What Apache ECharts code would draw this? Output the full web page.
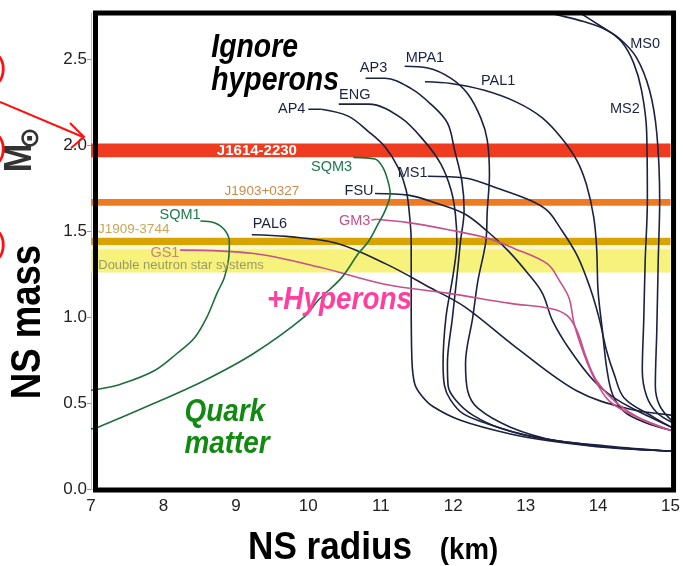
<!DOCTYPE html>
<html>
<head>
<meta charset="utf-8">
<title>Neutron star mass-radius relation</title>
<script src="https://cdn.jsdelivr.net/npm/echarts@6/dist/echarts.min.js"></script>
<style>
  html, body { margin: 0; padding: 0; background: #ffffff; }
  #chart { width: 683px; height: 566px; }
</style>
</head>
<body>
<div id="chart"></div>
<script>
// ---- axes -------------------------------------------------------------
const radiusTicks = [7, 8, 9, 10, 11, 12, 13, 14, 15];
const massTicks = [0.0, 0.5, 1.0, 1.5, 2.0, 2.5];
const massTop = 2.77;

// ---- measured pulsar masses (solar masses) -----------------------------
const bandNames = ['J1614-2230', 'J1903+0327', 'J1909-3744', 'DNS margin', 'Double neutron star systems'];
const bandLow  = [1.93, 1.648, 1.42, 1.395, 1.26];
const bandHigh = [2.01, 1.688, 1.462, 1.42, 1.395];

// ---- equations of state: [radius km, mass Msun] -----------------------
const AP4  = [[10.18,2.21],[10.55,2.17],[10.83,2.08],[11.06,1.99],[11.24,1.87],[11.35,1.74],[11.40,1.58],[11.42,1.44],[11.42,1.10],[11.43,0.75],[11.47,0.61],[11.57,0.54],[11.72,0.48],[12.10,0.40],[12.79,0.32],[13.34,0.28],[14.16,0.24],[15.01,0.22]];
const ENG  = [[10.42,2.24],[10.83,2.24],[11.28,2.16],[11.61,2.02],[11.83,1.89],[11.97,1.74],[12.03,1.60],[12.05,1.44],[12.00,1.25],[11.90,1.00],[11.86,0.73],[11.88,0.60],[11.96,0.52],[12.13,0.44],[12.47,0.38],[13.02,0.31],[13.63,0.27],[14.26,0.24],[15.01,0.22]];
const AP3  = [[10.79,2.39],[11.06,2.39],[11.42,2.33],[11.69,2.24],[11.92,2.13],[12.02,1.97],[12.12,1.79],[12.15,1.62],[12.10,1.44],[12.06,1.27],[11.99,1.00],[11.92,0.73],[11.93,0.60],[12.03,0.52],[12.27,0.43],[12.68,0.35],[13.30,0.29],[14.12,0.25],[15.01,0.22]];
const MPA1 = [[11.33,2.46],[11.65,2.45],[11.97,2.39],[12.20,2.30],[12.38,2.16],[12.47,2.03],[12.50,1.83],[12.47,1.62],[12.45,1.44],[12.34,1.21],[12.27,1.00],[12.17,0.73],[12.20,0.57],[12.34,0.47],[12.79,0.36],[13.43,0.28],[14.26,0.24],[15.01,0.22]];
const PAL1 = [[11.61,2.37],[11.97,2.36],[12.43,2.32],[12.88,2.25],[13.23,2.16],[13.50,2.04],[13.71,1.91],[13.84,1.77],[13.94,1.58],[13.98,1.40],[14.00,1.15],[14.06,0.92],[14.12,0.70],[14.20,0.55],[14.36,0.45],[14.63,0.39],[15.01,0.34]];
const MS0  = [[12.88,2.83],[13.34,2.77],[13.80,2.72],[14.12,2.67],[14.33,2.60],[14.49,2.48],[14.60,2.32],[14.67,2.08],[14.68,1.68],[14.65,1.33],[14.63,0.98],[14.61,0.69],[14.67,0.54],[14.81,0.445],[15.01,0.39]];
const MS2  = [[13.64,2.80],[14.05,2.69],[14.30,2.62],[14.53,2.51],[14.71,2.32],[14.81,2.07],[14.85,1.68],[14.83,1.33],[14.81,0.92],[14.79,0.60],[14.85,0.485],[15.01,0.40]];
const MS1  = [[11.65,1.82],[12.16,1.81],[12.61,1.75],[13.06,1.68],[13.30,1.62],[13.46,1.53],[13.71,1.36],[13.89,1.17],[14.01,1.00],[14.12,0.80],[14.22,0.67],[14.36,0.53],[14.76,0.42],[15.01,0.36]];
const FSU  = [[10.92,1.72],[11.38,1.71],[11.79,1.66],[12.16,1.60],[12.47,1.50],[12.75,1.39],[13.02,1.26],[13.23,1.14],[13.37,0.98],[13.61,0.81],[13.94,0.63],[14.26,0.52],[14.71,0.42],[15.01,0.36]];
const PAL6 = [[9.22,1.48],[9.70,1.47],[10.39,1.43],[11.07,1.31],[11.69,1.17],[12.16,1.06],[12.88,0.82],[13.71,0.57],[14.39,0.47],[15.01,0.43]];
const GM3  = [[10.94,1.57],[11.38,1.55],[11.92,1.51],[12.47,1.46],[12.84,1.40],[13.30,1.31],[13.47,1.21],[13.60,1.11],[13.67,0.96],[13.80,0.79],[13.94,0.65],[14.16,0.51],[14.53,0.42],[15.01,0.34]];
const GS1  = [[8.23,1.39],[9.25,1.37],[10.16,1.29],[11.07,1.19],[11.92,1.14],[12.79,1.08],[13.34,1.05],[13.57,1.01],[13.71,0.92],[13.84,0.76],[13.98,0.63],[14.26,0.50],[14.63,0.40],[15.01,0.34]];
const SQM1 = [[8.51,1.56],[8.70,1.55],[8.84,1.51],[8.91,1.44],[8.90,1.34],[8.84,1.23],[8.74,1.14],[8.60,1.00],[8.43,0.88],[8.19,0.79],[7.88,0.69],[7.41,0.61],[7.10,0.58],[7.00,0.575]];
const SQM3 = [[10.62,1.93],[10.92,1.92],[11.03,1.87],[11.10,1.79],[11.13,1.72],[11.06,1.62],[10.96,1.54],[10.83,1.44],[10.69,1.37],[10.46,1.23],[10.14,1.10],[9.94,1.00],[9.25,0.79],[8.56,0.63],[7.88,0.50],[7.10,0.36],[7.00,0.35]];

// ---- styling ----------------------------------------------------------
const NAVY = '#1b2140', GREEN = '#1f6e3e', PINK = '#c4508c';
const FONT = '"Liberation Sans", Arial, Helvetica, sans-serif';
const bandColors = ['#ef3b1f', '#f07a22', '#d9a300', '#fbf8cf', '#f7f27c'];

const curves = [
  { name: 'AP4', data: AP4, color: NAVY }, { name: 'ENG', data: ENG, color: NAVY },
  { name: 'AP3', data: AP3, color: NAVY }, { name: 'MPA1', data: MPA1, color: NAVY },
  { name: 'PAL1', data: PAL1, color: NAVY }, { name: 'MS0', data: MS0, color: NAVY },
  { name: 'MS2', data: MS2, color: NAVY }, { name: 'MS1', data: MS1, color: NAVY },
  { name: 'FSU', data: FSU, color: NAVY }, { name: 'PAL6', data: PAL6, color: NAVY },
  { name: 'GM3', data: GM3, color: PINK }, { name: 'GS1', data: GS1, color: PINK },
  { name: 'SQM1', data: SQM1, color: GREEN }, { name: 'SQM3', data: SQM3, color: GREEN }
];

// label anchors in data space (text centre)
const curveLabels = [
  { text: 'AP4',  at: [9.77, 2.21],  color: NAVY },
  { text: 'ENG',  at: [10.64, 2.29], color: NAVY },
  { text: 'AP3',  at: [10.90, 2.45], color: NAVY },
  { text: 'MPA1', at: [11.61, 2.51], color: NAVY },
  { text: 'PAL1', at: [12.62, 2.375], color: NAVY },
  { text: 'MS0',  at: [14.65, 2.59], color: NAVY },
  { text: 'MS2',  at: [14.37, 2.21], color: NAVY },
  { text: 'MS1',  at: [11.44, 1.84], color: NAVY },
  { text: 'FSU',  at: [10.70, 1.735], color: NAVY },
  { text: 'PAL6', at: [9.47, 1.54],  color: NAVY },
  { text: 'GM3',  at: [10.64, 1.56], color: PINK },
  { text: 'GS1',  at: [8.02, 1.375], color: '#c8876a' },
  { text: 'SQM1', at: [8.23, 1.595], color: '#1f7a4c' },
  { text: 'SQM3', at: [10.32, 1.875], color: '#1f7a4c' }
];
const leaders = [
  { from: [10.0, 2.21], to: AP4[0], color: NAVY },
  { from: [10.87, 1.565], to: GM3[0], color: PINK }
];
const bandLabels = [
  { text: 'J1614-2230', at: [9.29, 1.97], color: '#ffffff', font: 'bold 15px ' + FONT, align: 'center' },
  { text: 'J1903+0327', at: [9.36, 1.73], color: '#c88a4a', font: '13.5px ' + FONT, align: 'center' },
  { text: 'J1909-3744', at: [7.59, 1.51], color: '#c9a655', font: '13.5px ' + FONT, align: 'center' },
  { text: 'Double neutron star systems', at: [7.10, 1.30], color: '#9a9a66', font: '13px ' + FONT, align: 'left' }
];
const notes = [
  { text: 'Ignore',    at: [8.66, 2.567], color: '#000000', size: 33, sx: 0.86 },
  { text: 'hyperons',  at: [8.66, 2.375], color: '#000000', size: 33, sx: 0.86 },
  { text: '+Hyperons', at: [9.43, 1.096], color: '#ff3fa0', size: 31, sx: 0.9 },
  { text: 'Quark',     at: [8.29, 0.445], color: '#108a10', size: 31, sx: 0.9 },
  { text: 'matter',    at: [8.29, 0.259], color: '#108a10', size: 31, sx: 0.9 }
];

const chart = echarts.init(document.getElementById('chart'), null, { renderer: 'canvas' });

const series = [];
series.push({
  type: 'line', data: [], z: 1, silent: true, animation: false,
  markArea: {
    silent: true, animation: false,
    data: bandNames.map((n, i) => [
      { name: n, yAxis: bandLow[i], itemStyle: { color: bandColors[i] } },
      { yAxis: bandHigh[i] }
    ]),
    label: { show: false }
  }
});
curves.forEach(c => series.push({
  name: c.name, type: 'line', data: c.data, showSymbol: false, smooth: 0.35,
  z: 5, silent: true, animation: false, clip: true,
  lineStyle: { color: c.color, width: 1.6 }
}));
leaders.forEach(l => series.push({
  type: 'line', data: [l.from, l.to], showSymbol: false, z: 5, silent: true, animation: false,
  lineStyle: { color: l.color, width: 1.4 }
}));

chart.setOption({
  animation: false,
  backgroundColor: '#ffffff',
  grid: { left: 91, right: 8, top: 13, bottom: 77, containLabel: false },
  xAxis: {
    type: 'value', min: radiusTicks[0], max: radiusTicks[radiusTicks.length - 1], interval: 1,
    axisLine: { show: true, lineStyle: { color: '#bbbbbb', width: 1 } },
    axisTick: { show: false },
    splitLine: { show: false },
    axisLabel: { color: '#222222', fontSize: 17, fontFamily: FONT, margin: 9,
                 formatter: v => radiusTicks.includes(v) ? String(v) : '' }
  },
  yAxis: {
    type: 'value', min: 0, max: massTop, interval: 0.5,
    axisLine: { show: true, lineStyle: { color: '#bbbbbb', width: 1 } },
    axisTick: { show: true, length: 4, lineStyle: { color: '#999999' } },
    splitLine: { show: false },
    axisLabel: { color: '#222222', fontSize: 17, fontFamily: FONT, margin: 4, showMaxLabel: false,
                 formatter: v => massTicks.some(t => Math.abs(t - v) < 1e-9) ? v.toFixed(1) : '' }
  },
  series: series
});

// ---- annotations placed through the axes -----------------------------
const px = p => chart.convertToPixel({ gridIndex: 0 }, p);
const g = [];

curveLabels.forEach(l => {
  const p = px(l.at);
  g.push({ type: 'text', x: p[0], y: p[1], z: 20, silent: true,
    style: { text: l.text, fill: l.color, font: '14.5px ' + FONT, textAlign: 'center', textVerticalAlign: 'middle' } });
});
bandLabels.forEach(l => {
  const p = px(l.at);
  g.push({ type: 'text', x: p[0], y: p[1], z: 20, silent: true,
    style: { text: l.text, fill: l.color, font: l.font, textAlign: l.align, textVerticalAlign: 'middle' } });
});
notes.forEach(n => {
  const p = px(n.at);
  g.push({ type: 'text', x: p[0], y: p[1], z: 20, silent: true, scaleX: n.sx,
    style: { text: n.text, fill: n.color, font: 'italic bold ' + n.size + 'px ' + FONT, textAlign: 'left', textVerticalAlign: 'middle' } });
});

// thick frame around the plotting area
const tl = px([radiusTicks[0], massTop]);
const br = px([radiusTicks[radiusTicks.length - 1], 0]);
g.push({ type: 'rect', z: 30, silent: true,
  shape: { x: tl[0] + 4.5, y: tl[1], width: br[0] - tl[0] - 1.5, height: br[1] - tl[1] + 1 },
  style: { fill: null, stroke: '#000000', lineWidth: 5 } });

// axis titles
g.push({ type: 'text', x: 330, y: 548, z: 20, silent: true, scaleX: 0.9,
  style: { text: 'NS radius', fill: '#000', font: 'bold 39px ' + FONT, textAlign: 'center', textVerticalAlign: 'middle' } });
g.push({ type: 'text', x: 469, y: 551, z: 20, silent: true, scaleX: 0.92,
  style: { text: '(km)', fill: '#000', font: 'bold 30px ' + FONT, textAlign: 'center', textVerticalAlign: 'middle' } });
g.push({ type: 'text', x: 28, y: 322, z: 20, silent: true, rotation: Math.PI / 2, scaleX: 0.87,
  style: { text: 'NS mass', fill: '#000', font: 'bold 42px ' + FONT, textAlign: 'center', textVerticalAlign: 'middle' } });
g.push({ type: 'text', x: 21, y: 158, z: 20, silent: true, rotation: Math.PI / 2, scaleX: 0.9,
  style: { text: 'M', fill: '#333', font: 'bold 38px ' + FONT, textAlign: 'center', textVerticalAlign: 'middle' } });
g.push({ type: 'text', x: 31, y: 138, z: 20, silent: true, rotation: Math.PI / 2,
  style: { text: '\u2299', fill: '#333', font: 'bold 26px "DejaVu Sans", sans-serif', textAlign: 'center', textVerticalAlign: 'middle' } });

// red call-outs from the neighbouring panel
[68, 148, 244].forEach(y => g.push({ type: 'text', x: -4, y: y, z: 20, silent: true,
  style: { text: ')', fill: '#ff1010', font: '32px ' + FONT, textAlign: 'left', textVerticalAlign: 'middle' } }));
g.push({ type: 'polyline', z: 20, silent: true,
  shape: { points: [[0, 102], [83, 137]] }, style: { stroke: '#ff1010', lineWidth: 2, fill: null } });
g.push({ type: 'polyline', z: 20, silent: true,
  shape: { points: [[70, 123], [84, 137], [71, 148]] }, style: { stroke: '#ff1010', lineWidth: 2, fill: null } });

chart.setOption({ graphic: { elements: g } });
</script>
</body>
</html>
